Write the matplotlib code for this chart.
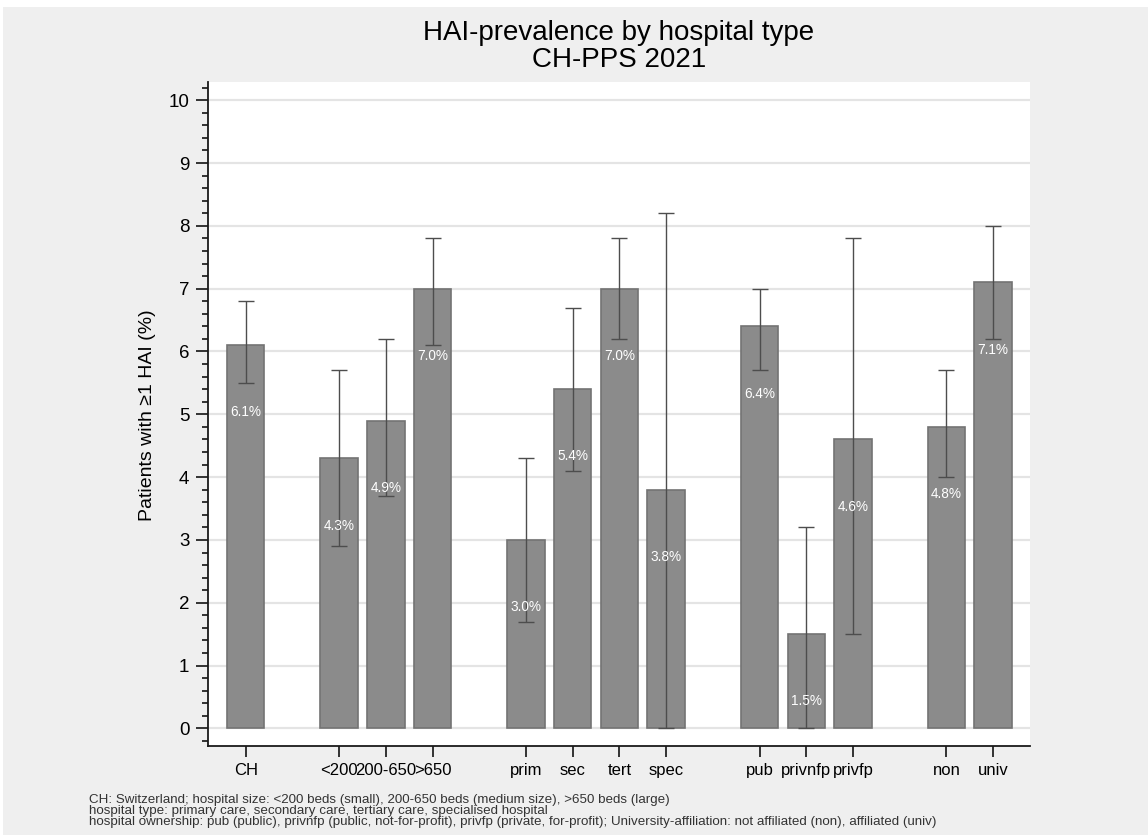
import matplotlib
matplotlib.use('Agg')
import matplotlib.pyplot as plt
import matplotlib.ticker as ticker
from matplotlib.patches import Rectangle

plt.rcParams['font.family'] = ['Liberation Sans', 'DejaVu Sans']

# data
categories = ['CH', '<200', '200-650', '>650', 'prim', 'sec', 'tert', 'spec',
              'pub', 'privnfp', 'privfp', 'non', 'univ']
group_sizes = [1, 3, 4, 3, 2]
prevalence = [6.1, 4.3, 4.9, 7.0, 3.0, 5.4, 7.0, 3.8, 6.4, 1.5, 4.6, 4.8, 7.1]
ci_low = [5.5, 2.9, 3.7, 6.1, 1.7, 4.1, 6.2, 0.0, 5.7, 0.0, 1.5, 4.0, 6.2]
ci_high = [6.8, 5.7, 6.2, 7.8, 4.3, 6.7, 7.8, 8.2, 7.0, 3.2, 7.8, 5.7, 8.0]
footnote = ('CH: Switzerland; hospital size: <200 beds (small), 200-650 beds (medium size), >650 beds (large)\n'
            'hospital type: primary care, secondary care, tertiary care, specialised hospital\n'
            'hospital ownership: pub (public), privnfp (public, not-for-profit), privfp (private, for-profit); '
            'University-affiliation: not affiliated (non), affiliated (univ)')

# bar positions: groups separated by one empty slot
x_pos = []
slot = 0
for n in group_sizes:
    for i in range(n):
        x_pos.append(slot)
        slot += 1
    slot += 1

W, H = 1148, 835
fig = plt.figure(figsize=(W / 100, H / 100), dpi=100)
fig.patch.set_facecolor('#efefef')
# thin white border at top and left, like the exported Stata graph
fig.add_artist(Rectangle((0, 1 - 7 / H), 1, 7 / H, transform=fig.transFigure,
                         facecolor='white', edgecolor='none'))
fig.add_artist(Rectangle((0, 0), 3 / W, 1, transform=fig.transFigure,
                         facecolor='white', edgecolor='none'))

ax = fig.add_axes([208 / W, 1 - 746 / H, (1030 - 208) / W, (746 - 82) / H])
ax.set_facecolor('white')

err = [[p - lo for p, lo in zip(prevalence, ci_low)],
       [hi - p for p, hi in zip(prevalence, ci_high)]]
ax.bar(x_pos, prevalence, width=0.8, color='#8b8b8b', edgecolor='#737373',
       linewidth=1.2, zorder=2)
ax.errorbar(x_pos, prevalence, yerr=err, fmt='none', ecolor='#4d4d4d',
            elinewidth=1.0, capsize=5.6, capthick=1.0, zorder=3)

for x, p in zip(x_pos, prevalence):
    ax.text(x, p - 1.07, f'{p:.1f}%', color='white', fontsize=9.8,
            ha='center', va='center', zorder=4)

ax.set_xlim(-0.807, 16.79)
ax.set_ylim(-0.28, 10.29)
ax.set_xticks(x_pos)
ax.set_xticklabels(categories, fontsize=12)
ax.yaxis.set_major_locator(ticker.MultipleLocator(1))
ax.yaxis.set_minor_locator(ticker.MultipleLocator(0.2))
ax.tick_params(axis='y', which='major', length=8.4, width=1.1, pad=5, labelsize=13.5)
ax.tick_params(axis='y', which='minor', length=4.3, width=1.1)
ax.tick_params(axis='x', which='major', length=8, width=1.1, pad=4)

ax.grid(axis='y', which='major', color='#e4e4e4', linewidth=1.6, zorder=0)
ax.set_axisbelow(True)
for side in ['top', 'right']:
    ax.spines[side].set_visible(False)
for side in ['left', 'bottom']:
    ax.spines[side].set_linewidth(1.3)
    ax.spines[side].set_color('#1a1a1a')

fig.text(147 / W, 1 - 415 / H, 'Patients with \u22651 HAI (%)', rotation=90,
         ha='center', va='center', fontsize=14)
fig.text(619 / W, 1 - 46.5 / H, 'HAI-prevalence by hospital type\nCH-PPS 2021',
         ha='center', va='center', fontsize=20, linespacing=1.02)
fig.text(89 / W, 1 - 794 / H, footnote, ha='left', va='top', fontsize=9.6,
         linespacing=0.9, color='#333333')

fig.savefig('out.png', dpi=100)
